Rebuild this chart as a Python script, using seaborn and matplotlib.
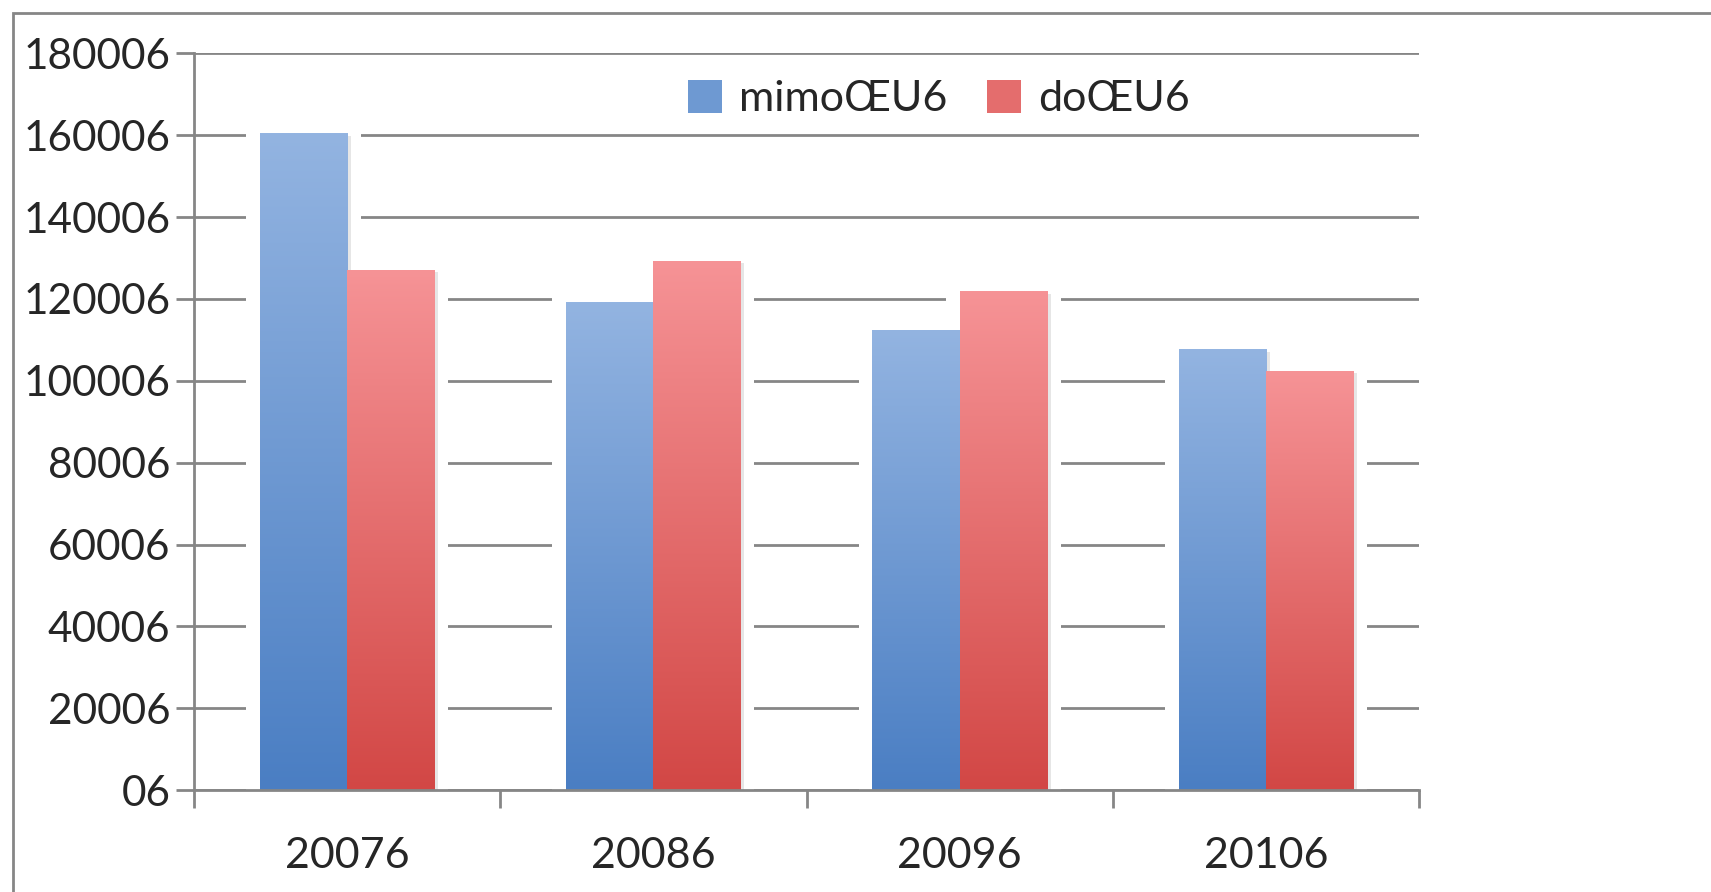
import numpy as np
import pandas as pd
import matplotlib
matplotlib.use("Agg")
import matplotlib.pyplot as plt
import seaborn as sns
from matplotlib.patches import Rectangle, Patch
from matplotlib.colors import LinearSegmentedColormap

# data
years = ["20076", "20086", "20096", "20106"]
series_names = ["mimoŒU6", "doŒU6"]
mimo_values = [160500, 119200, 112500, 107700]
do_values = [127200, 129300, 121900, 102400]
ytick_values = [0, 20000, 40000, 60000, 80000, 100000, 120000, 140000, 160000, 180000]
ytick_labels = ["06", "20006", "40006", "60006", "80006", "100006",
                "120006", "140006", "160006", "180006"]

df = pd.DataFrame({
    "year": years * 2,
    "value": mimo_values + do_values,
    "series": [series_names[0]] * 4 + [series_names[1]] * 4,
})

# gradient end colours (top, bottom)
grad = {
    series_names[0]: ("#93b4e1", "#4a7ec3"),
    series_names[1]: ("#f69396", "#d24745"),
}

sns.set_style("white")
plt.rcParams["font.family"] = ["Lato", "DejaVu Sans"]

fig = plt.figure(figsize=(17.11, 8.92), dpi=100)
ax = fig.add_axes([0.1134, 0.1143, 0.716, 0.8258])

sns.barplot(data=df, x="year", y="value", hue="series", order=years,
            hue_order=series_names, palette=[grad[s][1] for s in series_names],
            width=0.57, ax=ax, legend=False, zorder=3)

# gradient fill for each bar, with a white halo that breaks the grid
for cont, name in zip(ax.containers, series_names):
    cmap = LinearSegmentedColormap.from_list(name, [grad[name][1], grad[name][0]])
    for p in cont.patches:
        x0, w, h = p.get_x(), p.get_width(), p.get_height()
        ax.add_patch(Rectangle((x0 - 0.045, 0), w + 0.09, h + 2800,
                               facecolor="white", edgecolor="none", zorder=2))
        ax.add_patch(Rectangle((x0 + 0.012, -600), w, h, facecolor="#cfcfcf",
                               edgecolor="none", alpha=0.5, zorder=2.5))
        g = np.linspace(0, 1, 256).reshape(-1, 1)
        im = ax.imshow(g, cmap=cmap, aspect="auto", origin="lower",
                       extent=(x0, x0 + w, 0, h), zorder=3.2)
        im.set_clip_path(p)
        p.set_facecolor("none")
        p.set_edgecolor("none")

ax.set_xlim(-0.5, 3.5)
ax.set_ylim(0, 180000)

# grid / spines
ax.yaxis.grid(True, color="#868686", linewidth=2, zorder=1)
ax.set_axisbelow(True)
sns.despine(ax=ax, top=True, right=True)
for s in ["left", "bottom"]:
    ax.spines[s].set_color("#868686")
    ax.spines[s].set_linewidth(2)
    ax.spines[s].set_zorder(4)

ax.set_yticks(ytick_values)
ax.set_yticklabels(ytick_labels, fontsize=30.5)
ax.tick_params(axis="y", left=True, direction="out", length=13, width=2,
               color="#868686", pad=4)

ax.set_xticks(range(len(years)))
ax.set_xticklabels(years, fontsize=31)
ax.tick_params(axis="x", which="major", bottom=True, length=0, pad=34)
ax.set_xticks([-0.5, 0.5, 1.5, 2.5, 3.5], minor=True)
ax.tick_params(axis="x", which="minor", bottom=True, direction="out", length=13,
               width=2, color="#868686")

ax.set_xlabel("")
ax.set_ylabel("")

handles = []
for s in series_names:
    handles.append(Patch(facecolor=sns.blend_palette([grad[s][0], grad[s][1]], 3)[1],
                         edgecolor="none"))
ax.legend(handles, series_names, loc="center", bbox_to_anchor=(0.608, 0.938),
          ncol=2, frameon=False, fontsize=31, handlelength=0.8, handleheight=0.8,
          handletextpad=0.4, columnspacing=0.9)

# outer chart border
fig.patches.append(Rectangle((13 / 1711, -0.05), 1.2, 1 - 13 / 892 + 0.05,
                             transform=fig.transFigure, fill=False,
                             edgecolor="#868686", linewidth=2))

fig.savefig("out.png", dpi=100)
